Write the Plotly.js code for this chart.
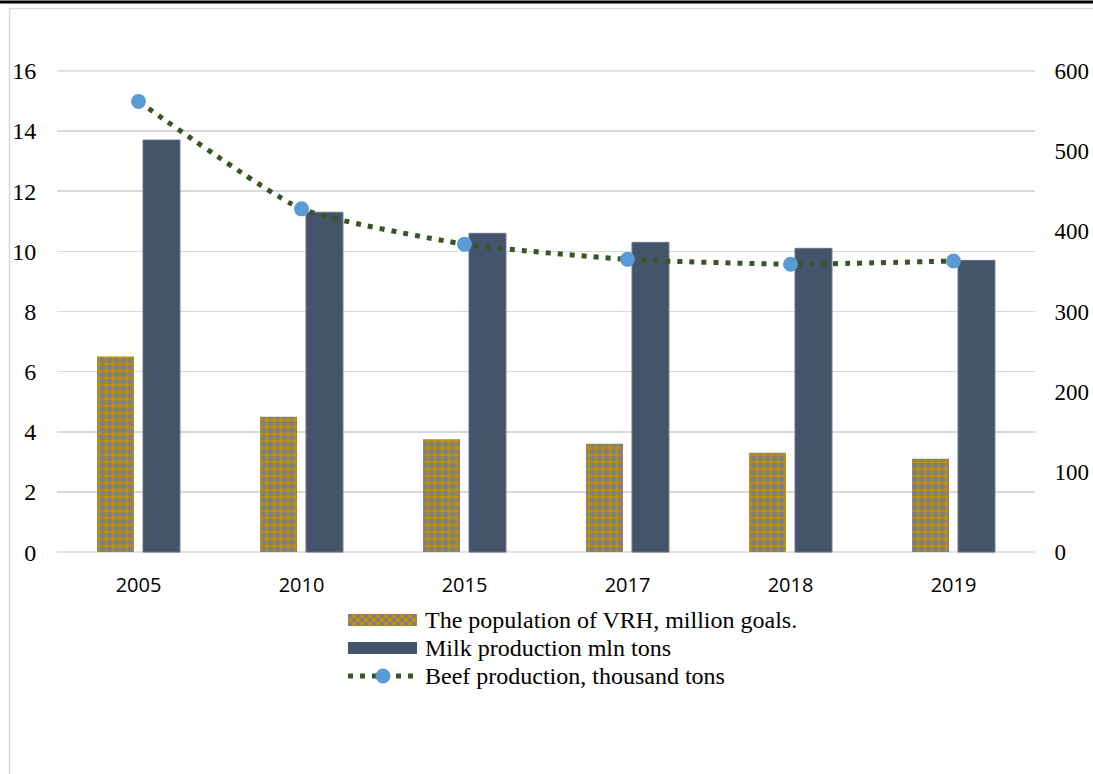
<!DOCTYPE html>
<html>
<head>
<meta charset="utf-8">
<script src="https://cdn.plot.ly/plotly-3.0.1.min.js"></script>
<style>html,body{margin:0;padding:0;background:#fff;}#chart{width:1093px;height:774px;}</style>
</head>
<body>
<div id="chart"></div>
<script>
const years = ['2005', '2010', '2015', '2017', '2018', '2019'];
const vrhPopulation = [6.5, 4.5, 3.75, 3.6, 3.3, 3.1];
const milkProduction = [13.7, 11.3, 10.6, 10.3, 10.1, 9.7];
const beefProduction = [562, 428, 384, 365, 359, 363];
const leftTicks = [0, 2, 4, 6, 8, 10, 12, 14, 16];
const rightTicks = [0, 100, 200, 300, 400, 500, 600];
const seriesNames = ['The population of VRH, million goals.', 'Milk production mln tons', 'Beef production, thousand tons'];

const serif = '"Liberation Serif", "Times New Roman", serif';
const W = 1093, H = 774, L = 57, R = 58, T = 70, B = 221;
const PW = W - L - R, PH = H - T - B;
const px = v => (v - L) / PW;          // pixel x -> paper x
const py = v => (H - B - v) / PH;      // pixel y -> paper y

const gold = '#BF9000', gray = '#808080', navy = '#44546A', green = '#375623', blue = '#5B9BD5';

const traces = [
  {
    type: 'bar', x: years, y: vrhPopulation, name: seriesNames[0],
    marker: {
      color: gold, line: {width: 0},
      pattern: {shape: '.', fgcolor: gray, bgcolor: gold, size: 7, solidity: 0.55, fillmode: 'replace'}
    },
    hoverinfo: 'none'
  },
  {
    type: 'bar', x: years, y: milkProduction, name: seriesNames[1],
    marker: {color: navy, line: {width: 1, color: '#6b7687'}},
    hoverinfo: 'none'
  },
  {
    type: 'scatter', mode: 'lines+markers', x: years, y: beefProduction, yaxis: 'y2', name: seriesNames[2],
    line: {color: green, width: 5, dash: '5px,7px', shape: 'spline', smoothing: 0.5},
    marker: {color: blue, size: 15},
    hoverinfo: 'none'
  }
];

// legend drawn as layout decorations
const lgX0 = 348, lgX1 = 417, rows = [620, 648, 676];
const shapes = [
  {type: 'rect', xref: 'paper', yref: 'paper', x0: px(9.5), x1: 1.2, y0: -0.6, y1: py(8.5),
   line: {color: '#d9d9d9', width: 1.5}, fillcolor: 'rgba(0,0,0,0)', layer: 'below'},
  {type: 'line', xref: 'paper', yref: 'paper', x0: -0.2, x1: 1.2, y0: py(2), y1: py(2),
   line: {color: '#000000', width: 3}},
  // edge gridlines (top and zero)
  {type: 'line', xref: 'paper', yref: 'y', x0: 0, x1: 1, y0: 16, y1: 16, line: {color: '#d9d9d9', width: 1.5}, layer: 'below'},
  {type: 'line', xref: 'paper', yref: 'y', x0: 0, x1: 1, y0: 0, y1: 0, line: {color: '#d9d9d9', width: 1.5}, layer: 'below'},
  // legend 1: checkered swatch
  {type: 'rect', xref: 'paper', yref: 'paper', x0: px(lgX0), x1: px(lgX1), y0: py(rows[0] + 6), y1: py(rows[0] - 6),
   line: {width: 0}, fillcolor: gold},
];
[-4, 0, 4].forEach((dy, i) => {
  const off = (i % 2) * 4;
  shapes.push({type: 'line', xref: 'paper', yref: 'paper', x0: px(lgX0 + off), x1: px(lgX1), y0: py(rows[0] + dy), y1: py(rows[0] + dy),
    line: {color: gray, width: 4, dash: '4px,4px'}});
});
shapes.push(
  {type: 'rect', xref: 'paper', yref: 'paper', x0: px(lgX0), x1: px(lgX1), y0: py(rows[1] + 6), y1: py(rows[1] - 6),
   line: {width: 0}, fillcolor: navy},
  {type: 'line', xref: 'paper', yref: 'paper', x0: px(lgX0), x1: px(lgX1), y0: py(rows[2]), y1: py(rows[2]),
   line: {color: green, width: 5, dash: '5px,7px'}},
  {type: 'circle', xref: 'paper', yref: 'paper', x0: px(383 - 7.5), x1: px(383 + 7.5), y0: py(rows[2] + 7.5), y1: py(rows[2] - 7.5),
   line: {width: 0}, fillcolor: blue}
);
const annotations = seriesNames.map((t, i) => ({
  xref: 'paper', yref: 'paper', x: px(423), y: py(rows[i]), xanchor: 'left', yanchor: 'middle',
  text: t, showarrow: false, font: {family: serif, size: 24, color: '#000'}
}));

const layout = {
  width: W, height: H,
  margin: {l: L, r: R, t: T, b: B},
  paper_bgcolor: '#ffffff', plot_bgcolor: '#ffffff',
  barmode: 'group', bargap: 0.436, bargroupgap: 0.196,
  showlegend: false,
  xaxis: {
    type: 'category', showgrid: false, zeroline: false, showline: false,
    ticks: 'outside', ticklen: 14, tickcolor: 'rgba(0,0,0,0)',
    tickfont: {family: '"Open Sans", sans-serif', size: 20, color: '#000'}
  },
  yaxis: {
    range: [-0.03, 16.03], tickvals: leftTicks, ticktext: leftTicks.map(String),
    showgrid: true, gridcolor: '#d9d9d9', gridwidth: 1.5, zeroline: false, showline: false,
    ticks: 'outside', ticklen: 15, tickcolor: 'rgba(0,0,0,0)',
    tickfont: {family: serif, size: 24, color: '#000'}
  },
  yaxis2: {
    range: [-1.125, 601.125], tickvals: rightTicks, ticktext: rightTicks.map(String),
    overlaying: 'y', side: 'right', showgrid: false, zeroline: false, showline: false,
    ticks: 'outside', ticklen: 14, tickcolor: 'rgba(0,0,0,0)',
    tickfont: {family: serif, size: 23, color: '#000'}
  },
  shapes: shapes,
  annotations: annotations
};

Plotly.newPlot('chart', traces, layout, {staticPlot: true, displayModeBar: false});
</script>
</body>
</html>
